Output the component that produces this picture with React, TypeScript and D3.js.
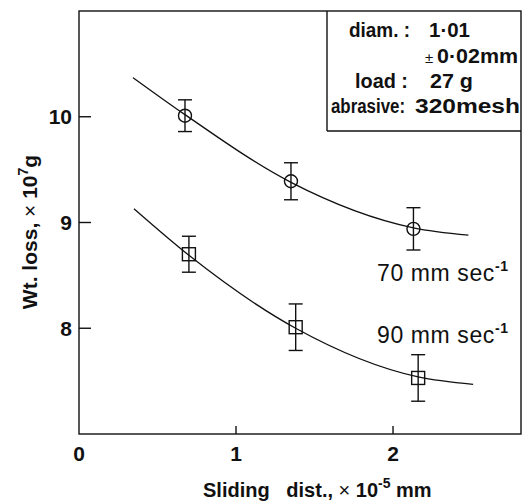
import * as React from 'react';
import * as d3 from 'd3';

// measured points (wt. loss x10^7 g vs sliding distance x10^-5 mm)
const circX = [0.675, 1.35, 2.13];
const circY = [10.01, 9.39, 8.94];
const circErr = [0.15, 0.175, 0.2];

const sqX = [0.7, 1.38, 2.16];
const sqY = [8.7, 8.01, 7.53];
const sqErr = [0.17, 0.22, 0.22];

// fitted curves drawn through the data
const fit70X = [0.344, 0.675, 1.35, 2.13, 2.48];
const fit70Y = [10.37, 10.02, 9.38, 8.95, 8.88];
const fit90X = [0.35, 0.7, 1.38, 2.16, 2.51];
const fit90Y = [9.13, 8.69, 8.0, 7.54, 7.47];

const xTicks = [1, 2];
const yTicks = [8, 9, 10];

const W = 523;
const H = 503;
const FONT = '"Liberation Sans", Arial, sans-serif';

const App = () => {
  const margin = { top: 11, right: 2, bottom: 69, left: 79 };
  const x = d3.scaleLinear().domain([0, 2.815]).range([margin.left, W - margin.right]);
  const y = d3.scaleLinear().domain([7, 11]).range([H - margin.bottom, margin.top]);

  const line = d3
    .line<[number, number]>()
    .x(d => x(d[0]))
    .y(d => y(d[1]))
    .curve(d3.curveMonotoneX);

  const fit70 = fit70X.map((v, i) => [v, fit70Y[i]] as [number, number]);
  const fit90 = fit90X.map((v, i) => [v, fit90Y[i]] as [number, number]);

  const x0 = x(0);
  const x1 = x(2.815);
  const yb = y(7);
  const yt = y(11);

  const errBar = (cx: number, cy: number, e: number, key: string) => {
    const px = x(cx);
    return (
      <g key={key}>
        <line x1={px} x2={px} y1={y(cy + e)} y2={y(cy - e)} />
        <line x1={px - 7} x2={px + 7} y1={y(cy + e)} y2={y(cy + e)} />
        <line x1={px - 7} x2={px + 7} y1={y(cy - e)} y2={y(cy - e)} />
      </g>
    );
  };

  const fit = { lengthAdjust: 'spacingAndGlyphs' as const };

  return (
    <svg
      width={W}
      height={H}
      style={{ position: 'absolute', left: 0, top: 0, background: '#fff' }}
    >
      <g stroke="#111" strokeWidth={1.4} fill="none">
        {/* frame */}
        <rect x={x0} y={yt} width={x1 - x0} height={yb - yt} />
        {/* ticks */}
        {xTicks.map(t => (
          <line key={'xt' + t} x1={x(t)} x2={x(t)} y1={yb} y2={yb - 8} />
        ))}
        {yTicks.map(t => (
          <line key={'yt' + t} x1={x0} x2={x0 + 12} y1={y(t)} y2={y(t)} />
        ))}
        {/* info box */}
        <line x1={327} x2={327} y1={yt} y2={131} />
        <line x1={327} x2={x1} y1={131} y2={131} />
        {/* fits */}
        <path d={line(fit70) || ''} strokeWidth={1.3} />
        <path d={line(fit90) || ''} strokeWidth={1.3} />
        {/* error bars */}
        {circX.map((v, i) => errBar(v, circY[i], circErr[i], 'ce' + i))}
        {sqX.map((v, i) => errBar(v, sqY[i], sqErr[i], 'se' + i))}
        {/* markers */}
        {circX.map((v, i) => (
          <circle key={'c' + i} cx={x(v)} cy={y(circY[i])} r={6.5} />
        ))}
        {sqX.map((v, i) => (
          <rect key={'s' + i} x={x(v) - 6.5} y={y(sqY[i]) - 6.5} width={13} height={13} />
        ))}
      </g>

      <g fontFamily={FONT} fontWeight="bold" fill="#111">
        {/* tick labels */}
        <text x={x(0)} y={461} fontSize={21} textAnchor="middle">0</text>
        {xTicks.map(t => (
          <text key={'xl' + t} x={x(t)} y={461} fontSize={21} textAnchor="middle">
            {t}
          </text>
        ))}
        {yTicks.map(t => (
          <text key={'yl' + t} x={72} y={y(t) + 7.5} fontSize={21} textAnchor="end">
            {t}
          </text>
        ))}
        {/* axis titles */}
        <text x={203} y={497} fontSize={20}>
          Sliding{'\u00a0\u00a0\u00a0'}dist.,<tspan fontWeight="normal"> × </tspan>10
          <tspan dy={-9} fontSize={14}>-5</tspan>
          <tspan dy={9}> mm</tspan>
        </text>
        <text transform="translate(37,232) rotate(-90)" fontSize={21} textAnchor="middle">
          Wt. loss,<tspan fontWeight="normal"> × </tspan>10
          <tspan dy={-9} fontSize={14}>7</tspan>
          <tspan dy={9}>g</tspan>
        </text>
        {/* info box text */}
        <g fontSize={20}>
          <text x={349} y={37} textLength={61} {...fit}>diam. :</text>
          <text x={429} y={37} textLength={41} {...fit}>1·01</text>
          <text x={425} y={63} fontWeight="normal" fontSize={15}>±</text>
          <text x={437} y={63} textLength={81} {...fit}>0·02mm</text>
          <text x={355} y={88} textLength={53} {...fit}>load :</text>
          <text x={430} y={88} textLength={43} {...fit}>27 g</text>
          <text x={331} y={113} textLength={74} {...fit}>abrasive:</text>
          <text x={415} y={113} textLength={105} {...fit}>320mesh</text>
        </g>
      </g>

      <g fontFamily={FONT} fill="#111" fontSize={23} letterSpacing={0.6}>
        <text x={377} y={281}>
          70 mm sec<tspan dy={-10} fontSize={14} fontWeight="bold">-1</tspan>
        </text>
        <text x={377} y={343}>
          90 mm sec<tspan dy={-10} fontSize={14} fontWeight="bold">-1</tspan>
        </text>
      </g>
    </svg>
  );
};

export default App;
